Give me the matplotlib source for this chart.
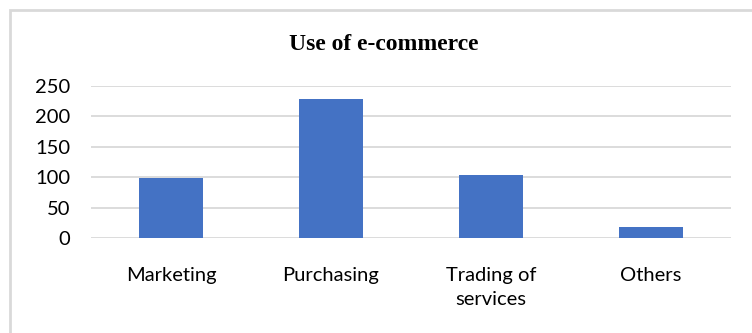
import matplotlib
matplotlib.use("Agg")
import matplotlib.pyplot as plt
from matplotlib.patches import Rectangle

categories = ["Marketing", "Purchasing", "Trading of\nservices", "Others"]
values = [98, 228, 104, 18]
yticks = [0, 50, 100, 150, 200, 250]

W, H = 752, 333
fig = plt.figure(figsize=(W / 100, H / 100), dpi=100)
fig.patch.set_facecolor("white")

# light grey frame around the chart area
fig.patches.append(Rectangle((9.5 / W, -0.1), 1.0, (H - 9.5) / H + 0.1,
                             transform=fig.transFigure, fill=False,
                             edgecolor="#d9d9d9", linewidth=2))

ax = fig.add_axes([91 / W, 1 - 238 / H, 640 / W, 152 / H])
x = range(len(categories))
ax.bar(x, values, width=0.4, color="#4472c4", zorder=3)

ax.set_xlim(-0.5, len(categories) - 0.5)
ax.set_ylim(0, 250)
ax.set_yticks(yticks)
ax.yaxis.grid(True, color="#d9d9d9", linewidth=1.3, zorder=0)
for s in ax.spines.values():
    s.set_visible(False)
ax.tick_params(length=0)
ax.set_xticks(list(x))
ax.set_xticklabels(categories, fontfamily="Lato", fontsize=14.5,
                   linespacing=1.5, va="top")
ax.tick_params(axis="x", pad=21)
ax.tick_params(axis="y", pad=15)
for lbl in ax.get_yticklabels():
    lbl.set_fontfamily("Lato")
    lbl.set_fontsize(14.5)

fig.text(384 / W, 1 - 44 / H, "Use of e-commerce", ha="center", va="center",
         fontfamily="Liberation Serif", fontweight="bold", fontsize=17)

fig.savefig("out.png", dpi=100)
